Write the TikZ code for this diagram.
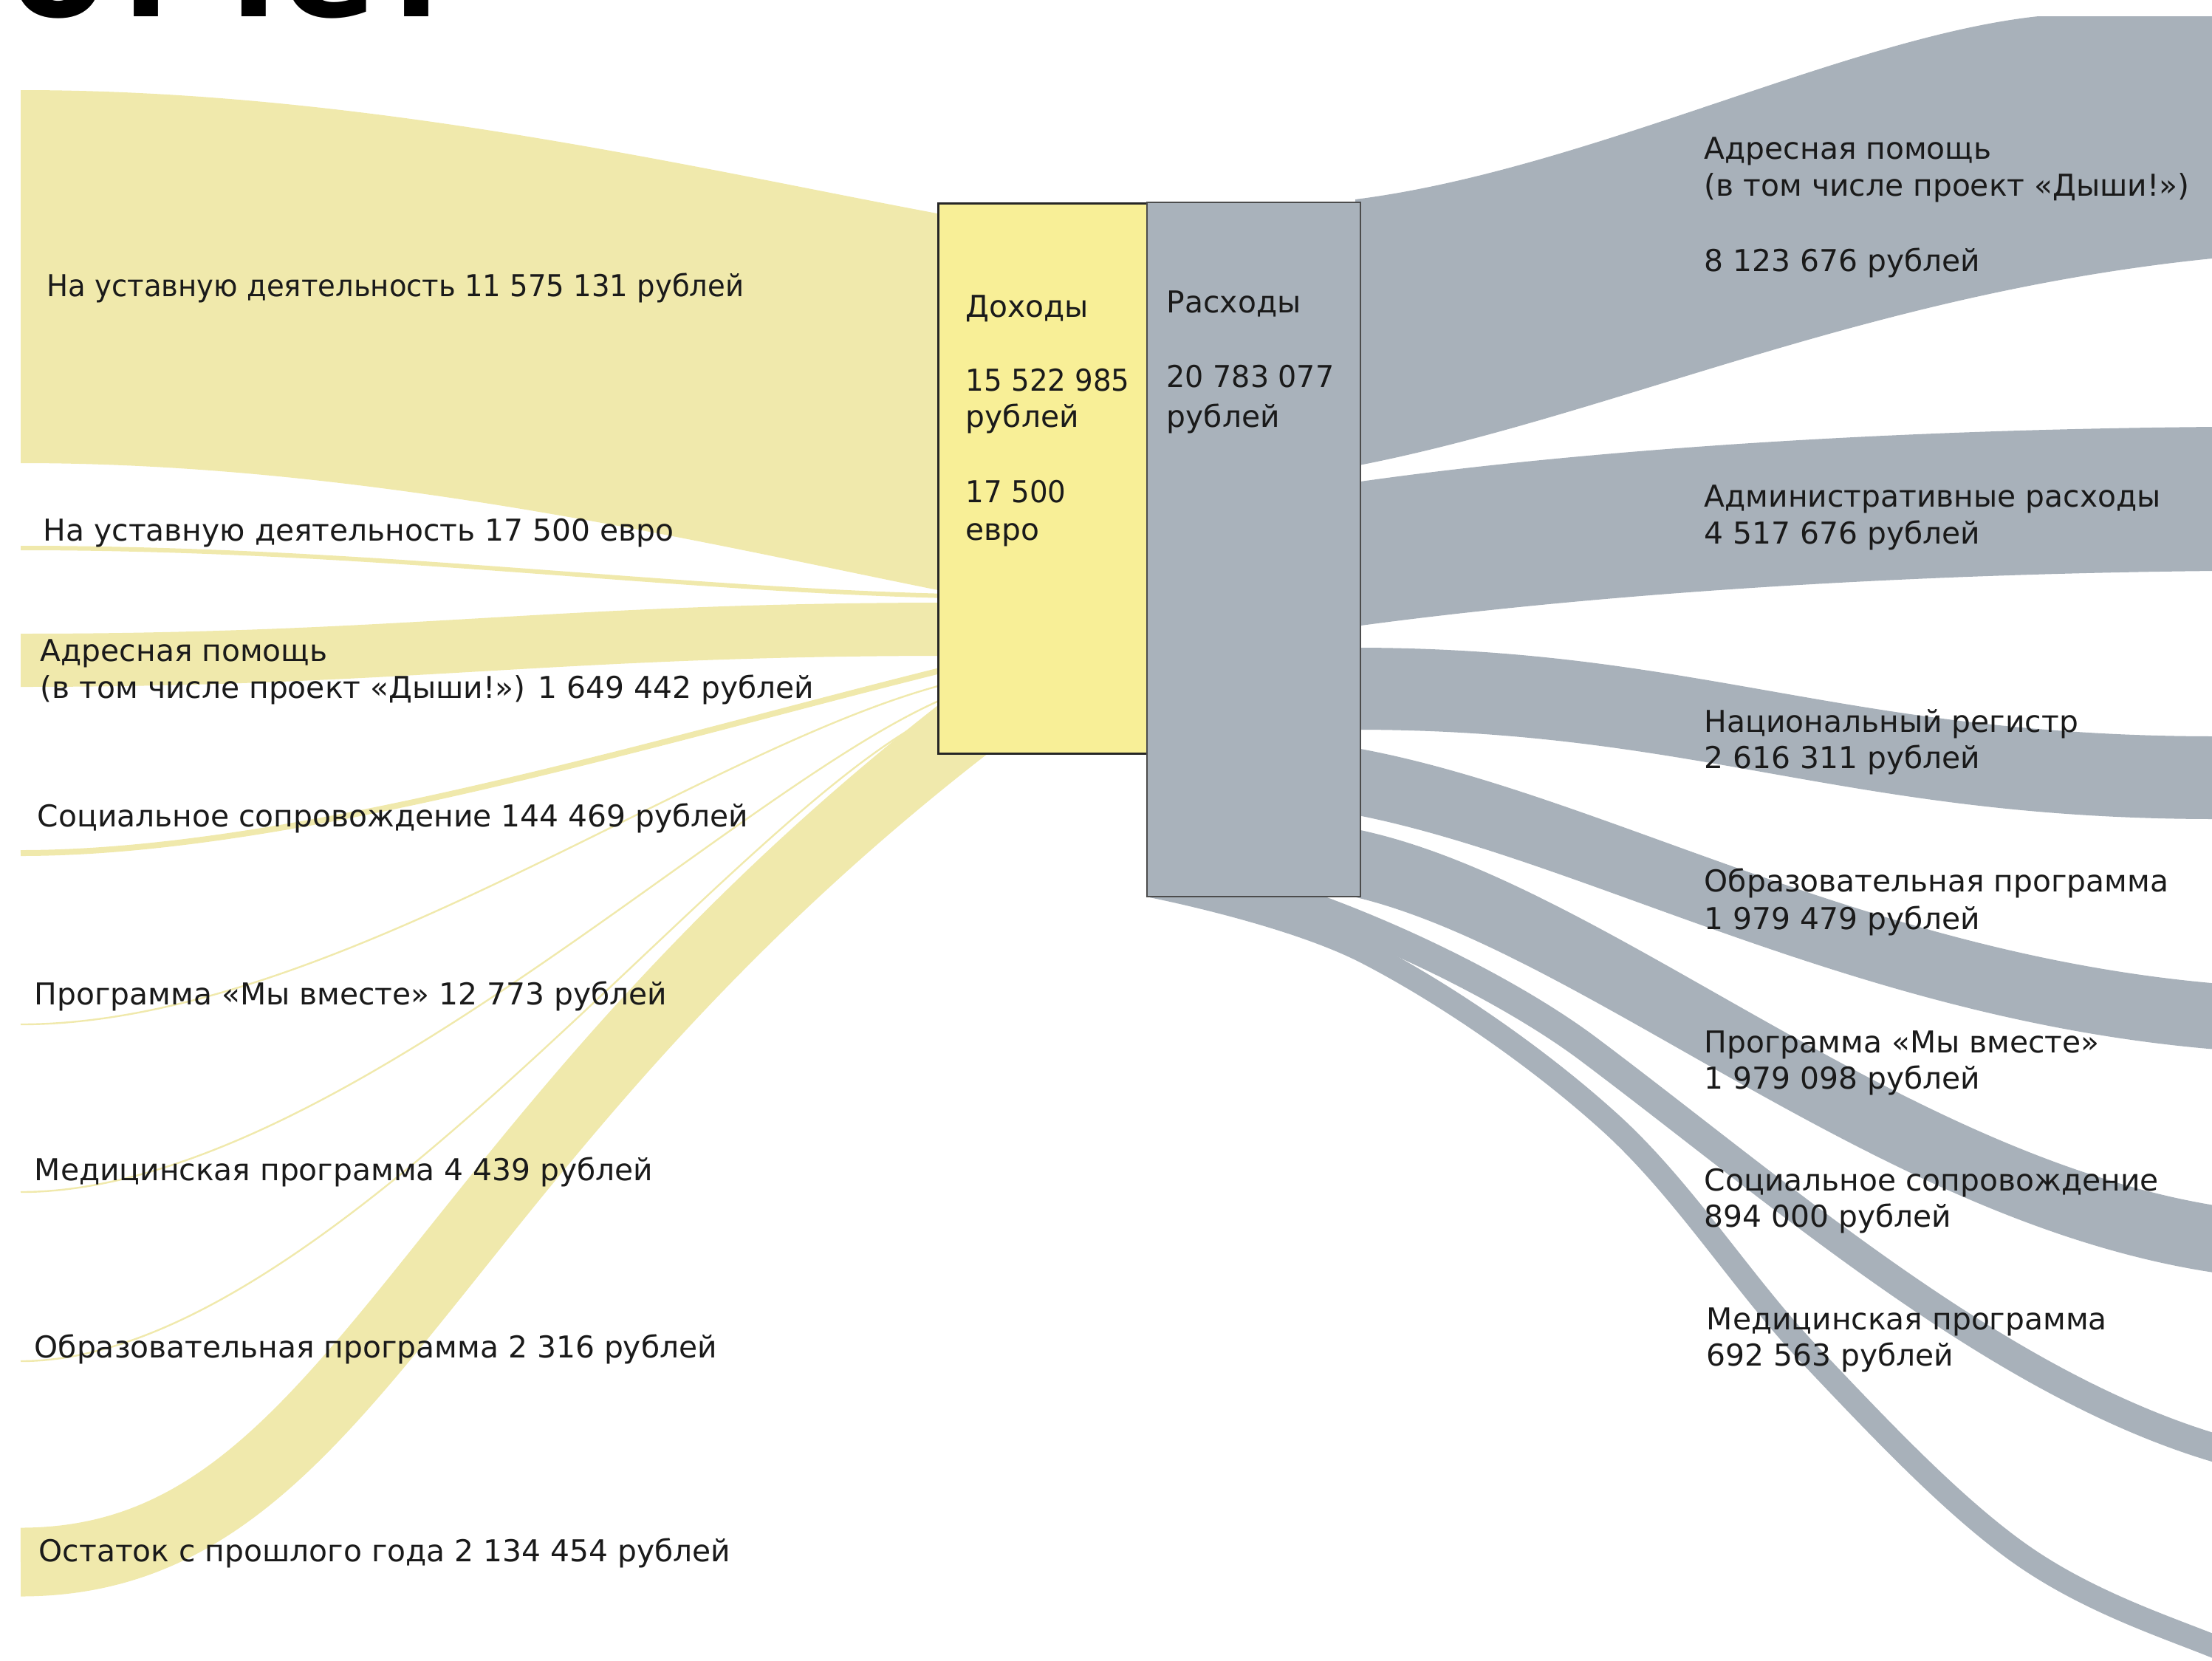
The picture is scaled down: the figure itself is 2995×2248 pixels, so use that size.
\documentclass[tikz,border=0pt]{standalone}
\usepackage{fontspec}
\setmainfont{DejaVu Sans}
\definecolor{flowY}{HTML}{F0E9AC}
\definecolor{boxY}{HTML}{F8EF97}
\definecolor{flowG}{HTML}{A8B1BA}
\definecolor{boxG}{HTML}{A9B2BB}
\definecolor{txt}{HTML}{1A1A1A}
\newcommand\lblfnt{\fontsize{10.2}{12.6}\selectfont}
\newcommand\titlefnt{\fontsize{47}{50}\selectfont\bfseries}
\tikzset{
  yflow/.style={fill=flowY},
  gflow/.style={fill=flowG},
  ystroke/.style={draw=flowY, line cap=butt},
  gstroke/.style={draw=flowG, line cap=butt},
  lbl/.style={anchor=base west, inner sep=0pt, font=\lblfnt, text=txt},
}
\begin{document}
\begin{tikzpicture}[x=0.25pt,y=-0.25pt]
\useasboundingbox (0,0) rectangle (2995,2248);
\begin{scope}
\clip (0,0) rectangle (2995,2248);
% title (cut off at top)
\node[anchor=base west, inner sep=0pt, font=\titlefnt, text=black] (title) at (14,22) {отчет};
% ---- income flows (yellow)
\fill[yflow] (28,122) .. controls (500,122) and (950,230) .. (1285,292) -- (1285,802) .. controls (950,735) and (500,627) .. (28,627) -- cycle;
\fill[yflow] (28,739) .. controls (500,739) and (900,795) .. (1285,804) -- (1285,810) .. controls (900,801) and (500,745) .. (28,745) -- cycle;
\fill[yflow] (28,858) .. controls (550,858) and (750,816) .. (1285,816) -- (1285,888) .. controls (750,888) and (550,930) .. (28,930) -- cycle;
\draw[ystroke, line width=2pt] (28,1155) .. controls (400,1155) and (900,1000) .. (1285,905);
\draw[ystroke, line width=0.6pt] (28,1387) .. controls (450,1387) and (950,1010) .. (1285,925);
\draw[ystroke, line width=0.6pt] (28,1614) .. controls (450,1614) and (1000,1060) .. (1285,943);
\draw[ystroke, line width=0.6pt] (28,1843) .. controls (450,1843) and (1000,1080) .. (1285,960);
\draw[ystroke, line width=23.25pt] (28,2115) .. controls (480,2115) and (560,1560) .. (1320,975);
% ---- expense flows (grey)
\fill[gflow] (1835,270) .. controls (2150,230) and (2500,50) .. (2760,22) -- (3050,22) -- (3050,345) .. controls (2550,385) and (2200,560) .. (1835,631) -- cycle;
\fill[gflow] (1835,653) .. controls (2100,615) and (2500,582) .. (3000,578) -- (3000,773) .. controls (2500,778) and (2100,812) .. (1835,848) -- cycle;
\fill[gflow] (1835,877) .. controls (2300,877) and (2500,997) .. (3000,997) -- (3000,1109) .. controls (2500,1109) and (2300,988) .. (1835,988) -- cycle;
\draw[gstroke, line width=22.25pt] (1800,1052) .. controls (2150,1105) and (2550,1365) .. (3100,1382);
\draw[gstroke, line width=22.5pt] (1800,1162) .. controls (2150,1215) and (2600,1665) .. (3100,1688);
\draw[gstroke, line width=9.5pt] (1640,1185) .. controls (1850,1240) and (2050,1345) .. (2150,1420) .. controls (2450,1645) and (2800,1960) .. (3150,1990);
\draw[gstroke, line width=7.75pt] plot[smooth, tension=0.6] coordinates {(1560,1200) (1850,1290) (2180,1520) (2450,1834) (2730,2100) (2995,2228) (3150,2268)};
\end{scope}
% ---- boxes
\node[draw=black!85, line width=0.75pt, fill=boxY, inner sep=0pt, minimum width=70.75pt, minimum height=186.25pt] (inc) at (1411.5,647.5) {};
\node[draw=black!70, line width=0.6pt, fill=boxG, inner sep=0pt, minimum width=72.25pt, minimum height=235pt] (exp) at (1697.5,744) {};
% ---- box texts
\node[lbl] (inc1) at (1307,429) {Доходы};
\node[lbl] (inc2) at (1307,529) {\scalebox{0.95}[1]{15 522 985}};
\node[lbl] (inc3) at (1307,578) {рублей};
\node[lbl] (inc4) at (1307,680) {\scalebox{0.95}[1]{17 500}};
\node[lbl] (inc5) at (1307,731) {евро};
\node[lbl] (exp1) at (1579,423) {Расходы};
\node[lbl] (exp2) at (1579,524) {\scalebox{0.97}[1]{20 783 077}};
\node[lbl] (exp3) at (1579,578) {рублей};
% ---- left labels
\node[lbl] (l1) at (63,401) {\scalebox{0.946}[1]{На уставную деятельность 11 575 131 рублей}};
\node[lbl] (l2) at (58,732) {На уставную деятельность 17 500 евро};
\node[lbl] (l3a) at (54,895) {Адресная помощь};
\node[lbl] (l3b) at (54,945) {(в том числе проект «Дыши!») 1 649 442 рублей};
\node[lbl] (l4) at (50,1119) {Социальное сопровождение 144 469 рублей};
\node[lbl] (l5) at (46,1360) {Программа «Мы вместе» 12 773 рублей};
\node[lbl] (l6) at (46,1598) {Медицинская программа 4 439 рублей};
\node[lbl] (l7) at (46,1838) {Образовательная программа 2 316 рублей};
\node[lbl] (l8) at (52,2114) {Остаток с прошлого года 2 134 454 рублей};
% ---- right labels
\node[lbl] (r1a) at (2307,215) {Адресная помощь};
\node[lbl] (r1b) at (2307,265) {(в том числе проект «Дыши!»)};
\node[lbl] (r1c) at (2307,367) {8 123 676 рублей};
\node[lbl] (r2a) at (2307,686) {Административные расходы};
\node[lbl] (r2b) at (2307,736) {4 517 676 рублей};
\node[lbl] (r3a) at (2307,991) {Национальный регистр};
\node[lbl] (r3b) at (2307,1040) {2 616 311 рублей};
\node[lbl] (r4a) at (2307,1207) {Образовательная программа};
\node[lbl] (r4b) at (2307,1258) {1 979 479 рублей};
\node[lbl] (r5a) at (2307,1425) {Программа «Мы вместе»};
\node[lbl] (r5b) at (2307,1474) {1 979 098 рублей};
\node[lbl] (r6a) at (2307,1612) {Социальное сопровождение};
\node[lbl] (r6b) at (2307,1661) {894 000 рублей};
\node[lbl] (r7a) at (2310,1800) {Медицинская программа};
\node[lbl] (r7b) at (2310,1849) {692 563 рублей};
\end{tikzpicture}
\end{document}
